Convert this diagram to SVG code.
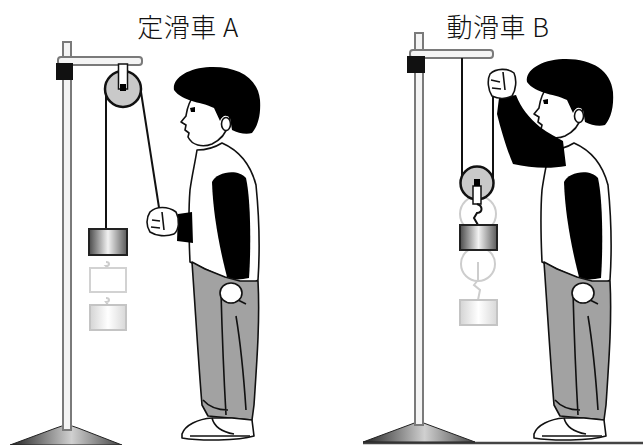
<svg xmlns="http://www.w3.org/2000/svg" xmlns:xlink="http://www.w3.org/1999/xlink" width="643" height="445" viewBox="0 0 643 445">
  <defs>
    <linearGradient id="weight" x1="0" y1="0" x2="1" y2="0">
      <stop offset="0" stop-color="#4a4a4a"/>
      <stop offset="0.5" stop-color="#f2f2f2"/>
      <stop offset="1" stop-color="#5a5a5a"/>
    </linearGradient>
    <linearGradient id="weightGhost" x1="0" y1="0" x2="1" y2="0">
      <stop offset="0" stop-color="#d4d4d4"/>
      <stop offset="0.5" stop-color="#ffffff"/>
      <stop offset="1" stop-color="#d8d8d8"/>
    </linearGradient>
    <linearGradient id="base" x1="0" y1="0" x2="1" y2="0">
      <stop offset="0" stop-color="#222"/>
      <stop offset="0.55" stop-color="#d0d0d0"/>
      <stop offset="1" stop-color="#444"/>
    </linearGradient>
    <style>
      .title { font-family: "Noto Sans CJK JP", "Noto Sans", sans-serif; font-size: 26px; font-weight: 300; fill: #111; letter-spacing: 0.5px; }
      .pole { fill: #f4f4f4; stroke: #7a7a7a; stroke-width: 2; }
      .clamp { fill: #111; }
      .rope { stroke: #111; stroke-width: 2; fill: none; }
      .pulley { fill: #c9c9c9; stroke: #111; stroke-width: 2.5; }
      .weight { fill: url(#weight); stroke: #222; stroke-width: 2; }
      .ghost { fill: url(#weightGhost); stroke: #c4c4c4; stroke-width: 2; }
      .ghostline { fill: none; stroke: #cdcdcd; stroke-width: 2; }
      .base { fill: url(#base); stroke: #222; stroke-width: 1; }
      .ink { stroke: #111; stroke-width: 1.6; stroke-linejoin: round; }
      .skin { fill: #fff; }
      .black { fill: #000; }
      .pants { fill: #a2a2a2; }
    </style>

    <!-- boy standing, facing left: head -->
    <g id="boy-head">
      <path class="skin ink" d="M194,96 C188,102 187,110 186,116 L181,122 L186,125 L185,130 L189,133 L188,137 C192,145 202,148 212,144 C220,140 226,134 228,125 L232,108 L205,94 Z"/>
      <path class="black" d="M174,90 C172,78 188,68 210,67 C238,66 258,78 260,100 C261,115 258,126 252,133 C246,135 238,133 232,130 L230,118 C226,114 222,116 220,121 L214,108 C206,104 198,103 192,101 C186,99 178,96 174,90 Z"/>
      <ellipse class="skin ink" cx="226" cy="124" rx="4.5" ry="6.5"/>
      <path class="black" d="M190,108 L195,107 L195,112 L191,112 Z"/>
    </g>

    <!-- boy standing: torso, side sleeve, trousers, shoes -->
    <g id="boy-body">
      <path class="skin ink" d="M197,150 C205,150 214,148 222,143 C238,150 250,162 256,185 C259,215 260,250 258,280 L250,286 C235,283 220,276 205,269 L190,262 C189,240 188,215 190,190 C192,175 195,163 197,150 Z"/>
      <path class="black" d="M212,182 C216,172 238,168 246,178 C251,200 251,250 249,278 C240,280 232,280 227,277 C220,250 213,215 212,182 Z"/>
      <path class="pants ink" d="M192,262 L205,269 L225,277 L240,281 L258,281 C260,320 257,360 254,405 L252,420 L230,418 L208,416 L202,405 C199,370 196,320 192,262 Z"/>
      <path class="ink" fill="none" d="M221,292 C222,330 224,380 226,415 M203,400 C210,408 220,410 228,410 M238,300 L246,304 M236,316 C240,340 244,380 246,410"/>
      <ellipse class="skin ink" cx="231" cy="293" rx="11" ry="10"/>
      <path class="skin ink" d="M182,434 C185,425 198,419 212,418 L232,418 L252,420 L254,436 C238,441 200,441 182,438 Z"/>
      <path class="ink" fill="none" d="M212,418 C214,426 222,432 234,434 M190,436 L250,436"/>
    </g>
  </defs>

  <!-- titles -->
  <text class="title" x="188" y="37" text-anchor="middle">定滑車 A</text>
  <text class="title" x="498" y="37" text-anchor="middle">動滑車 B</text>

  <!-- fixed pulley A: stand -->
  <g id="stand-a">
    <path class="base" d="M10,445 L56,428 Q67,423 78,428 L122,445 Z"/>
    <rect class="pole" x="63" y="42" width="8" height="388"/>
    <rect class="pole" x="58" y="57" width="84" height="8" rx="3"/>
    <rect class="clamp" x="56" y="63" width="17" height="17"/>
  </g>

  <!-- fixed pulley A: pulley, rope, weights -->
  <g id="pulley-a">
    <line class="rope" x1="106" y1="89" x2="106" y2="228"/>
    <line class="rope" x1="141" y1="92" x2="160" y2="214"/>
    <circle class="pulley" cx="123" cy="89" r="18"/>
    <rect x="118.5" y="64" width="9" height="25" fill="#fff" stroke="#111" stroke-width="1.5"/>
    <rect x="120" y="84" width="6" height="7" fill="#000"/>
    <rect class="weight" x="89" y="229" width="38" height="26"/>
    <path class="ghostline" d="M106,262 C110,262 110,266 106,266 L108,268"/>
    <rect x="90" y="268" width="36" height="24" fill="#fff" stroke="#d2d2d2" stroke-width="2"/>
    <path class="ghostline" d="M106,298 C110,298 110,302 106,302 L108,305"/>
    <rect class="ghost" x="90" y="305" width="36" height="25"/>
  </g>

  <!-- boy A pulling the rope -->
  <g id="boy-a">
    <use xlink:href="#boy-body"/>
    <use xlink:href="#boy-head"/>
    <path class="black" d="M192,212 L178,214 L177,241 L193,243 Z"/>
    <path class="skin ink" d="M150,212 C156,206 168,206 176,212 C180,220 179,230 174,234 C166,237 156,236 150,232 C146,226 146,218 150,212 Z"/>
    <path class="ink" fill="none" d="M152,220 L160,221 M151,227 L160,228 M162,212 L164,230"/>
  </g>

  <!-- movable pulley B: stand and floor -->
  <g id="stand-b">
    <line x1="363" y1="443" x2="643" y2="443" stroke="#444" stroke-width="2.5"/>
    <path class="base" d="M363,442 L409,425 Q419,420 429,425 L475,442 Z"/>
    <rect class="pole" x="415" y="33" width="8" height="392"/>
    <rect class="pole" x="410" y="50" width="83" height="8" rx="3"/>
    <rect class="clamp" x="407" y="56" width="18" height="17"/>
  </g>

  <!-- movable pulley B: rope, pulley, weights -->
  <g id="pulley-b">
    <circle class="ghostline" cx="478" cy="214" r="18"/>
    <circle class="ghostline" cx="478" cy="264" r="17"/>
    <path class="ghostline" d="M478,262 L478,280 L474,285 L480,290 L478,300"/>
    <rect class="ghost" x="460" y="300" width="37" height="25"/>
    <line class="rope" x1="462" y1="58" x2="462" y2="183"/>
    <line class="rope" x1="493" y1="84" x2="493" y2="183"/>
    <circle class="pulley" cx="477" cy="183" r="16.5"/>
    <rect x="473" y="186" width="8" height="18" fill="#fff" stroke="#111" stroke-width="1.5"/>
    <rect x="474" y="179" width="6" height="7" fill="#000"/>
    <path class="rope" d="M477,204 C483,206 483,212 477,213 L474,218 L478,225"/>
    <rect class="weight" x="460" y="225" width="37" height="25"/>
  </g>

  <!-- boy B lifting the rope -->
  <g id="boy-b">
    <use xlink:href="#boy-body" transform="translate(352,0)"/>
    <use xlink:href="#boy-head" transform="translate(353,-8)"/>
    <path class="black" d="M499,98 L516,95 C521,108 529,118 540,127 C548,133 556,137 563,141 L566,166 C550,169 530,168 513,164 C507,150 501,130 497,114 Z"/>
    <path class="skin ink" d="M490,74 C496,68 508,68 514,73 C517,80 516,90 512,96 C506,99 498,99 492,96 C488,90 487,80 490,74 Z"/>
    <path class="ink" fill="none" d="M491,80 L500,82 M492,88 L501,89 M503,72 L505,90"/>
  </g>
</svg>
